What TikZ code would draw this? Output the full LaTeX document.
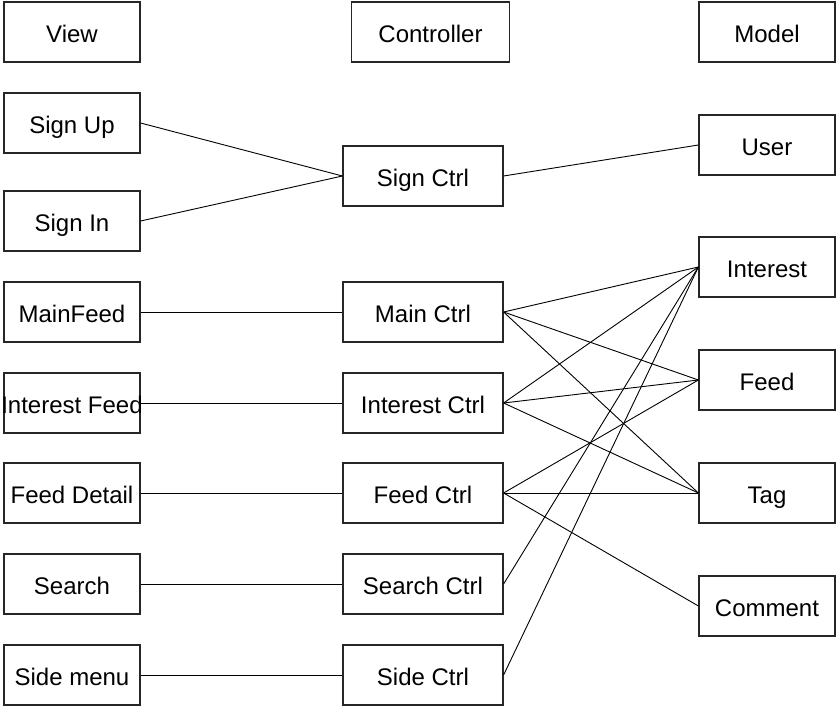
\documentclass[tikz,border=0pt]{standalone}
\usepackage{fontspec}
\setmainfont{Liberation Sans}
\begin{document}
\begin{tikzpicture}[x=1pt,y=-1pt,
  box/.style={draw=black!85,line width=1.2pt,minimum height=60pt,inner sep=0pt,text height=21pt,text depth=0pt,font=\fontsize{24}{28}\selectfont},
  vbox/.style={box,minimum width=136pt},
  cbox/.style={box,minimum width=160pt},
  link/.style={draw=black,line width=0.9pt}]
\useasboundingbox (0,0) rectangle (836,706);
% headers
\node[vbox] (view) at (72,32) {View};
\node[box,minimum width=158pt] (ctrl) at (430.5,32) {Controller};
\node[vbox] (model) at (767,32) {Model};
% views
\node[vbox] (signup) at (72,123) {Sign Up};
\node[vbox] (signin) at (72,221) {Sign In};
\node[vbox] (mainfeed) at (72,312) {MainFeed};
\node[vbox] (intfeed) at (72,403) {\makebox[0pt]{Interest Feed}};
\node[vbox] (feeddet) at (72,493) {Feed Detail};
\node[vbox] (search) at (72,584) {Search};
\node[vbox] (sidemenu) at (72,675) {Side menu};
% controllers
\node[cbox] (signctrl) at (423,176) {Sign Ctrl};
\node[cbox] (mainctrl) at (423,312) {Main Ctrl};
\node[cbox] (intctrl) at (423,403) {Interest Ctrl};
\node[cbox] (feedctrl) at (423,493) {Feed Ctrl};
\node[cbox] (searchctrl) at (423,584) {Search Ctrl};
\node[cbox] (sidectrl) at (423,675) {Side Ctrl};
% models
\node[vbox] (user) at (767,145) {User};
\node[vbox] (interest) at (767,267) {Interest};
\node[vbox] (feed) at (767,380) {Feed};
\node[vbox] (tag) at (767,493) {Tag};
\node[vbox] (comment) at (767,606) {Comment};
% links
\draw[link] (signup.east) -- (signctrl.west);
\draw[link] (signin.east) -- (signctrl.west);
\draw[link] (signctrl.east) -- (user.west);
\draw[link] (mainfeed.east) -- (mainctrl.west);
\draw[link] (intfeed.east) -- (intctrl.west);
\draw[link] (feeddet.east) -- (feedctrl.west);
\draw[link] (search.east) -- (searchctrl.west);
\draw[link] (sidemenu.east) -- (sidectrl.west);
\draw[link] (mainctrl.east) -- (interest.west);
\draw[link] (mainctrl.east) -- (feed.west);
\draw[link] (mainctrl.east) -- (tag.west);
\draw[link] (intctrl.east) -- (interest.west);
\draw[link] (intctrl.east) -- (feed.west);
\draw[link] (intctrl.east) -- (tag.west);
\draw[link] (feedctrl.east) -- (feed.west);
\draw[link] (feedctrl.east) -- (tag.west);
\draw[link] (feedctrl.east) -- (comment.west);
\draw[link] (searchctrl.east) -- (interest.west);
\draw[link] (sidectrl.east) -- (interest.west);
\end{tikzpicture}
\end{document}
